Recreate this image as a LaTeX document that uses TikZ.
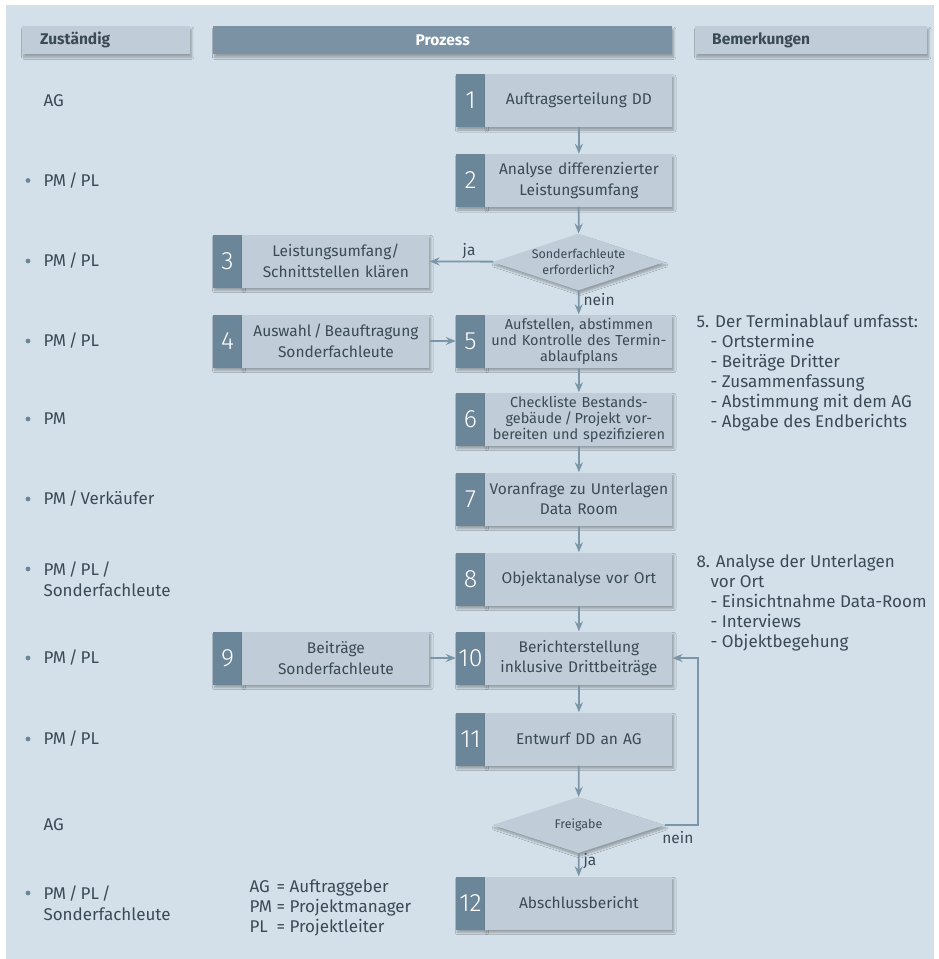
\documentclass[tikz,border=0pt]{standalone}
\usepackage{fontspec}
\setmainfont{Fira Sans}
\newfontfamily\zahlfont{Fira Sans Light}
\usetikzlibrary{positioning, shapes.geometric, arrows.meta, shadows.blur}

\definecolor{PanelBlau}{RGB}{211,224,233}
\definecolor{KastenGrau}{RGB}{192,205,216}
\definecolor{StreifenBlau}{RGB}{108,134,153}
\definecolor{KopfBlau}{RGB}{122,146,164}
\definecolor{SchriftGrau}{RGB}{58,74,86}
\definecolor{PfeilBlau}{RGB}{124,150,169}

\begin{document}
\begin{tikzpicture}[x=1pt, y=-1pt, text=SchriftGrau,
	font=\fontsize{15.5}{20.5}\selectfont,
	schatten/.style={blur shadow={shadow xshift=1.5pt, shadow yshift=-3pt,
		shadow blur steps=6, shadow opacity=30}},
	kopf/.style={fill=KastenGrau, minimum height=28pt, anchor=north west,
		align=left, schatten, font=\fontsize{15.5}{18}\selectfont\bfseries},
	nummer/.style={fill=StreifenBlau, minimum width=29pt, minimum height=53pt,
		inner sep=0pt, text=white, font=\zahlfont\fontsize{25}{25}\selectfont, schatten},
	prozess/.style={fill=KastenGrau, minimum width=187pt, minimum height=53pt,
		text width=183pt, inner sep=0pt, align=center, schatten},
	klein/.style={font=\fontsize{14.5}{16}\selectfont},
	frage/.style={diamond, fill=KastenGrau, aspect=3, inner sep=0pt,
		minimum width=172pt, minimum height=56pt, align=center, schatten,
		font=\fontsize{12.5}{16}\selectfont},
	pfeil/.style={draw=PfeilBlau, line width=1.8pt, -{Stealth[length=10pt, width=8pt]}},
	wer/.style={anchor=west, align=left, font=\fontsize{17}{21}\selectfont},
	notiz/.style={anchor=west, align=left, font=\fontsize{17}{20}\selectfont},
	marke/.style={font=\fontsize{15.5}{18}\selectfont, inner sep=2pt}]

	\useasboundingbox (0,0) rectangle (939,959);
	\fill[PanelBlau] (6,5) rectangle (934,959);

	% Kopfzeile
	\node[kopf, text width=132pt, inner xsep=18pt] (zust) at (22,26) {Zust\"andig};
	\node[kopf, fill=KopfBlau, text=white, minimum width=459pt, align=center] (proz) at (213,26) {Prozess};
	\node[kopf, text width=198pt, inner xsep=17pt] (bem) at (695,26) {Bemerkungen};

	% Prozessschritte
	\node[nummer] (n1) at (470.5,100.5) {1};
	\node[prozess, right=0pt of n1] (b1) {Auftragserteilung DD};
	\node[nummer] (n2) at (470.5,180.5) {2};
	\node[prozess, right=0pt of n2] (b2) {Analyse differenzierter\\Leistungsumfang};
	\node[frage] (d1) at (578.5,262) {Sonderfachleute\\erforderlich?};
	\node[nummer] (n3) at (227.5,261) {3};
	\node[prozess, right=0pt of n3] (b3) {Leistungsumfang/\\Schnittstellen kl\"aren};
	\node[nummer] (n4) at (227.5,341) {4};
	\node[prozess, right=0pt of n4] (b4) {Auswahl\,/\,Beauftragung\\Sonderfachleute};
	\node[nummer] (n5) at (470.5,341) {5};
	\node[prozess, klein, right=0pt of n5] (b5) {Aufstellen, abstimmen\\und Kontrolle des Termin-\\ablaufplans};
	\node[nummer] (n6) at (470.5,419) {6};
	\node[prozess, klein, right=0pt of n6] (b6) {Checkliste Bestands-\\geb\"aude\,/\,Projekt vor-\\bereiten und spezifizieren};
	\node[nummer] (n7) at (470.5,499) {7};
	\node[prozess, right=0pt of n7] (b7) {Voranfrage zu Unterlagen\\Data Room};
	\node[nummer] (n8) at (470.5,579) {8};
	\node[prozess, right=0pt of n8] (b8) {Objektanalyse vor Ort};
	\node[nummer] (n9) at (227.5,658) {9};
	\node[prozess, right=0pt of n9] (b9) {Beitr\"age\\Sonderfachleute};
	\node[nummer] (n10) at (470.5,658) {10};
	\node[prozess, right=0pt of n10] (b10) {Berichterstellung\\inklusive Drittbeitr\"age};
	\node[nummer] (n11) at (470.5,739) {11};
	\node[prozess, right=0pt of n11] (b11) {Entwurf DD an AG};
	\node[frage] (d2) at (578.5,825) {Freigabe};
	\node[nummer] (n12) at (470.5,903) {12};
	\node[prozess, right=0pt of n12] (b12) {Abschlussbericht};

	% Verbindungen
	\draw[pfeil] (b1) -- (b2);
	\draw[pfeil] (b2) -- (d1);
	\draw[pfeil] (d1) -- node[marke, above, pos=0.38] (ja1) {ja} (b3);
	\draw[pfeil] (d1) -- node[marke, right=2pt, pos=0.4] (nein1) {nein} (b5);
	\draw[pfeil] (b4) -- (n5);
	\draw[pfeil] (b5) -- (b6);
	\draw[pfeil] (b6) -- (b7);
	\draw[pfeil] (b7) -- (b8);
	\draw[pfeil] (b8) -- (b10);
	\draw[pfeil] (b9) -- (n10);
	\draw[pfeil] (b10) -- (b11);
	\draw[pfeil] (b11) -- (d2);
	\draw[pfeil] (d2) -- node[marke, right=2pt, pos=0.35] (ja2) {ja} (b12);
	\draw[pfeil] (d2.east) -- node[marke, below=3pt, pos=0.4] (nein2) {nein} ++(33,0) |- (b10.east);

	% Zustaendigkeiten
	\foreach \yy in {180.5,261,341,419,499,569,658,739,893}
		\fill[StreifenBlau] (28,\yy) circle (2.4pt);
	\node[wer] (w1) at (40,100.5) {AG};
	\node[wer] (w2) at (40,180.5) {PM\,/\,PL};
	\node[wer] (w3) at (40,261) {PM\,/\,PL};
	\node[wer] (w4) at (40,341) {PM\,/\,PL};
	\node[wer] (w5) at (40,419) {PM};
	\node[wer] (w6) at (40,499) {PM\,/\,Verk\"aufer};
	\node[wer] (w7) at (40,579) {PM\,/\,PL\,/\\Sonderfachleute};
	\node[wer] (w8) at (40,658) {PM\,/\,PL};
	\node[wer] (w9) at (40,739) {PM\,/\,PL};
	\node[wer] (w10) at (40,825) {AG};
	\node[wer] (w11) at (40,903) {PM\,/\,PL\,/\\Sonderfachleute};

	% Bemerkungen
	\node[notiz] (bem5) at (693,373) {5. Der Terminablauf umfasst:\\
		\hspace*{14pt}- Ortstermine\\\hspace*{14pt}- Beitr\"age Dritter\\
		\hspace*{14pt}- Zusammenfassung\\\hspace*{14pt}- Abstimmung mit dem AG\\
		\hspace*{14pt}- Abgabe des Endberichts};
	\node[notiz] (bem8) at (693,603) {8. Analyse der Unterlagen\\
		\hspace*{14pt}vor Ort\\\hspace*{14pt}- Einsichtnahme Data-Room\\
		\hspace*{14pt}- Interviews\\\hspace*{14pt}- Objektbegehung};

	% Abkuerzungen
	\node[notiz] (abk) at (246,908) {\begin{tabular}{@{}l@{ = }l@{}}
		AG & Auftraggeber\\ PM & Projektmanager\\ PL & Projektleiter
	\end{tabular}};
\end{tikzpicture}
\end{document}
